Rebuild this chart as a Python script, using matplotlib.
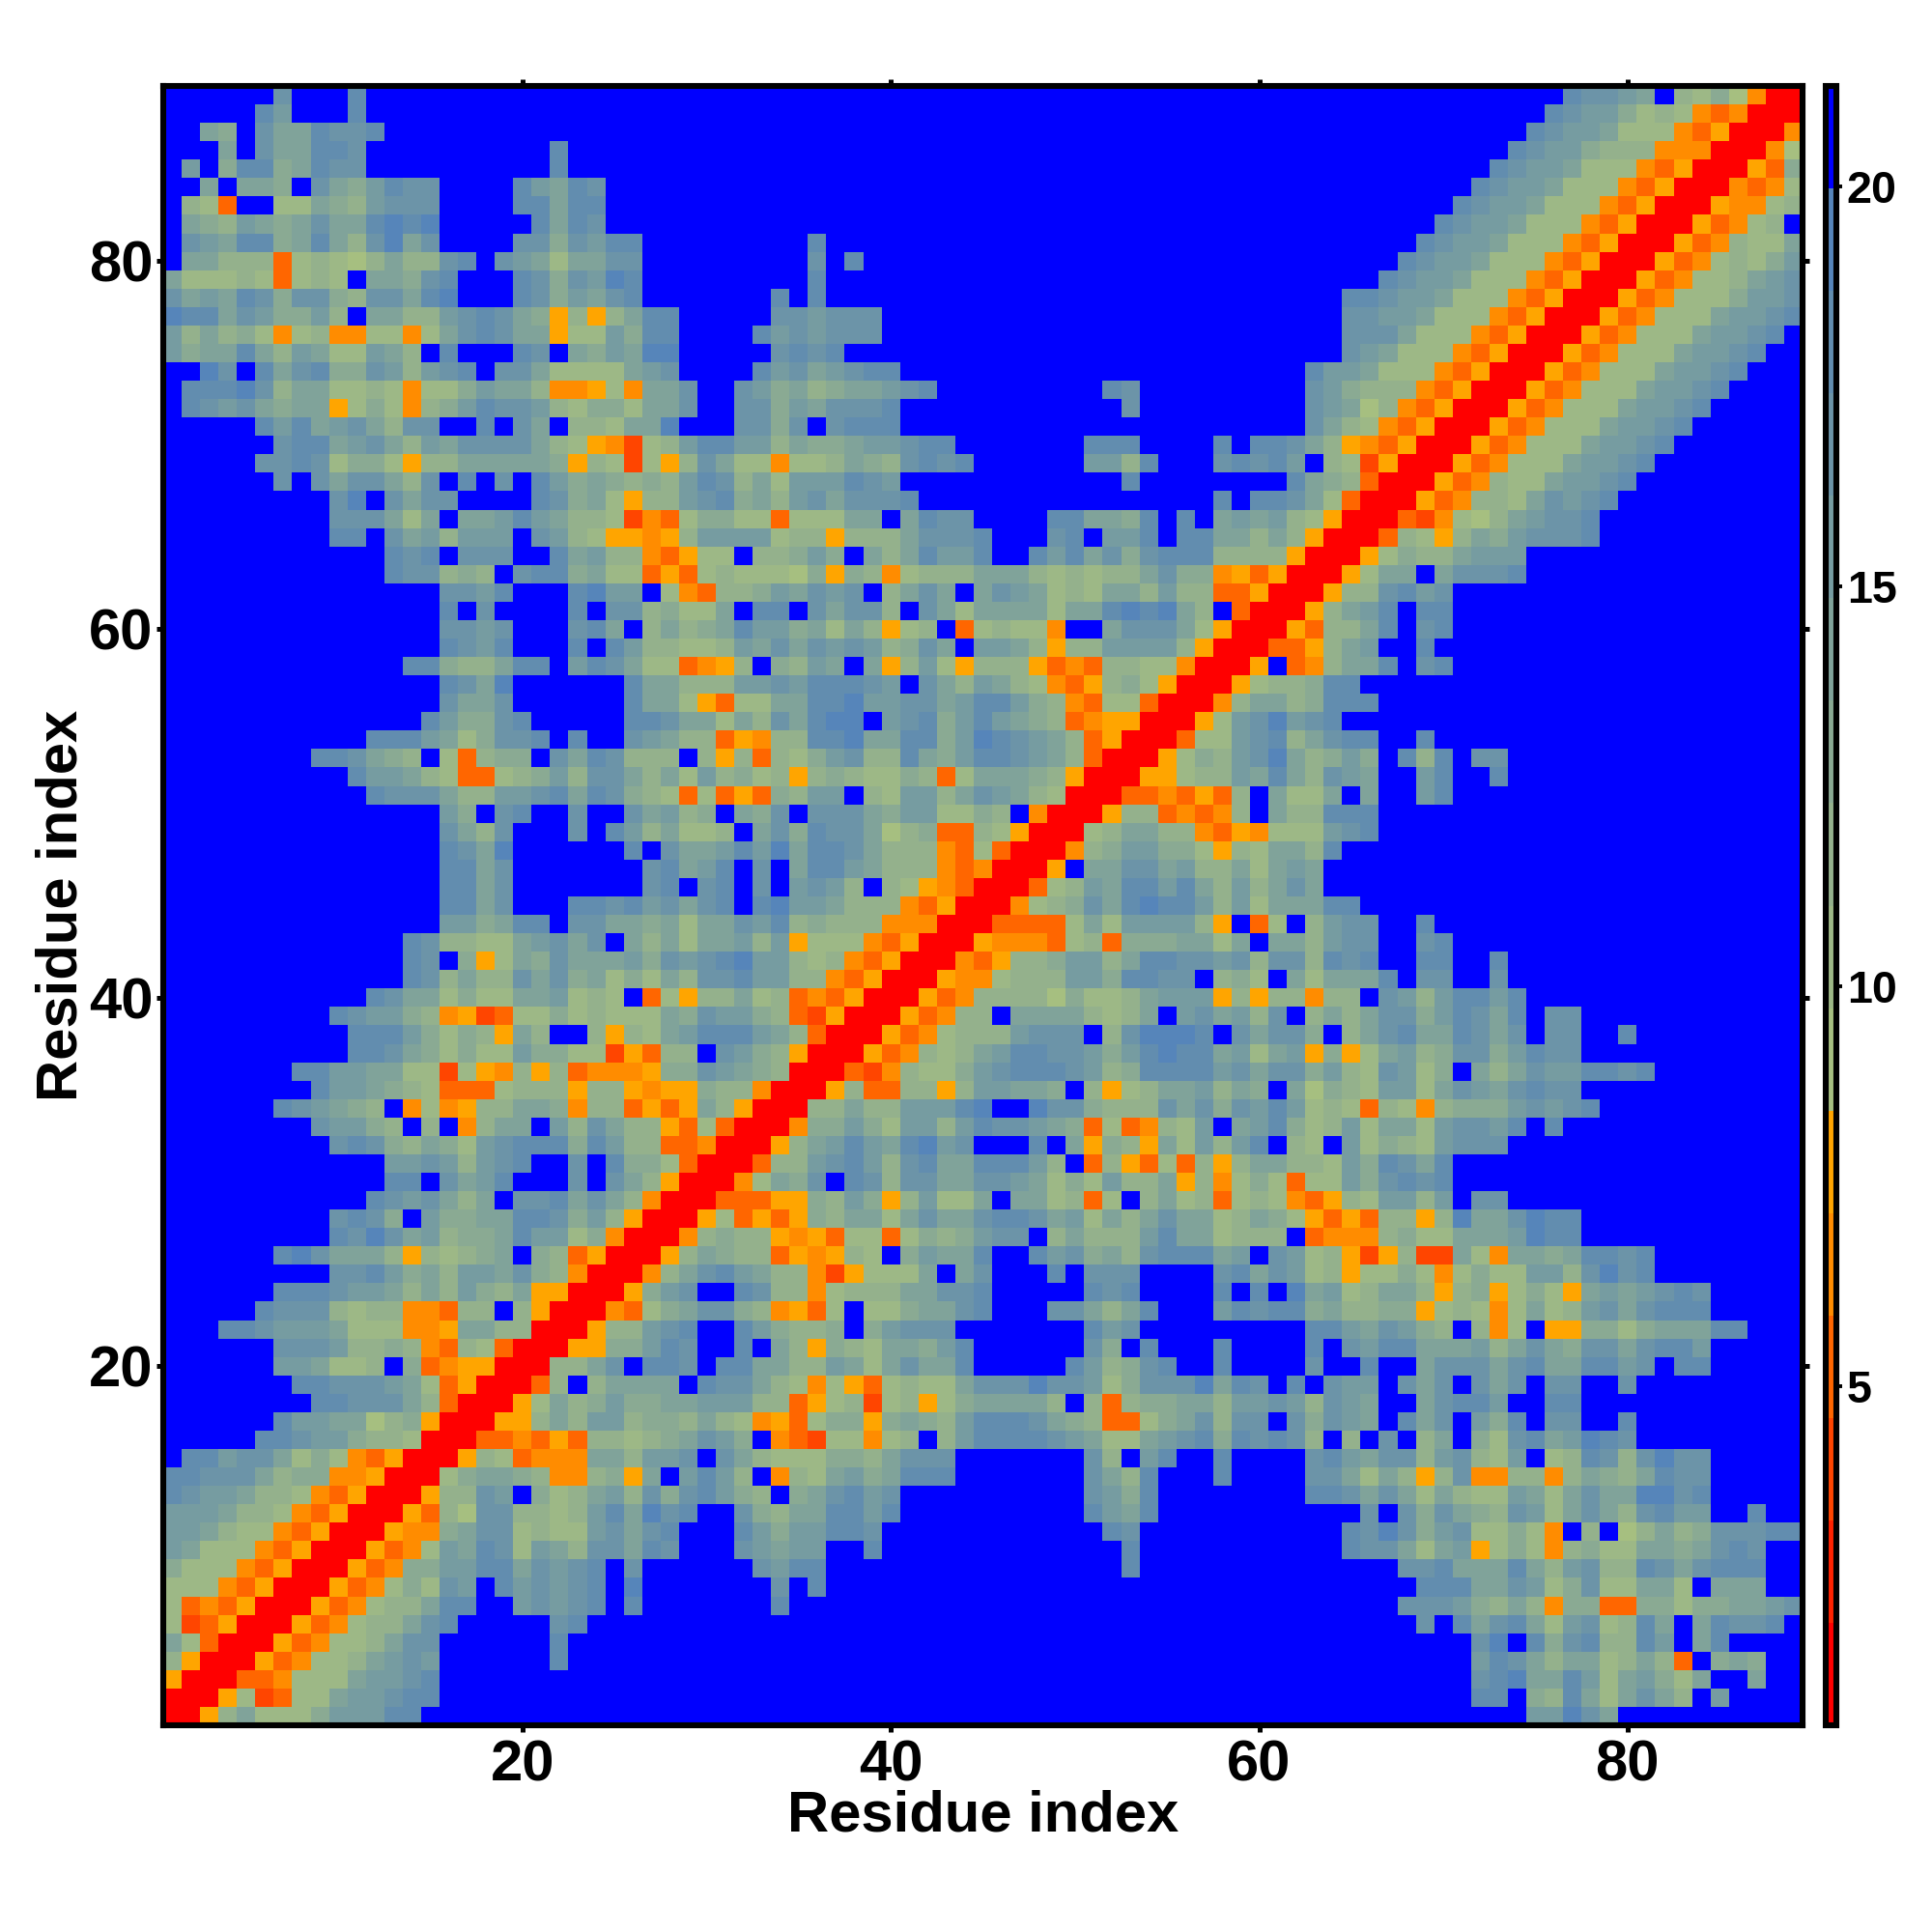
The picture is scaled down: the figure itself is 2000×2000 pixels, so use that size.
import numpy as np
import matplotlib
matplotlib.use('Agg')
import matplotlib.pyplot as plt
from matplotlib.colors import ListedColormap, BoundaryNorm

plt.rcParams['font.family'] = ['Liberation Sans', 'DejaVu Sans']
plt.rcParams['font.weight'] = 'bold'

### colour bands, red (close) up to blue (far). '.' in the rows below is the last band
band_colors = ['#FF0000', '#FF2200', '#FF4500', '#FF6600', '#FF8C00', '#FFA500',
               '#A6BF80', '#9DB886', '#94B18C', '#8AAA93', '#80A39A', '#769CA1',
               '#6C94A8', '#628DAF', '#5685BA', '#0000FF']
band_edges = np.linspace(0.76, 21.25, 17)
band_chars = '012345' + '6789abcde' + '.'

n_res = 89
axis_label = 'Residue index'
main_ticks = [20, 40, 60, 80]
bar_ticks = [5, 10, 15, 20]

### matrix is symmetric, only x <= y is read. one band character per residue
### columns 1-30, key is the y residue
rows_left = {
    89: "......c...d",
    88: ".....db...d",
    87: "..a9.caadccd",
    86: "...a.caaddc..........d",
    85: ".b.9dd9adcc..........d",
    84: "..a.aa9.ca9bdcc....dbadc",
    83: ".873..77a98bccc....ddadd",
    82: ".a98ba9acaadede.....dadc",
    81: ".cbadd9ada8ceac....cc9cbdd",
    80: ".aa888378768a88cd.cba7aacc",
    79: "a777873787.aa9cd...dc9cbed",
    78: "cabadc9cc98ccade...dc9bacd",
    77: "eddacb99b8.aa88bcdca95858add",
    76: "b8a897478447747acdcaa577b9dd",
    75: "b9aada8ba77ba8.d...dc.a9baee",
    74: "..ec.dacd99cb8bcd.cca7777abc",
    73: ".dddec8aa77874779baa844574aac.",
    72: ".dcbca9aa5797489bdccb87997aac.",
    71: ".....dbdabca8cc..d.ca.887aae.",
    70: "......cddabca8bacccca8754278bd",
    69: ".....ccdc7997588aaaaa95872758c",
    68: "......c.cacca8c.d.c.db9a9898bd",
    67: ".........ce.cacc....dc9a7588bc",
    66: ".........ccca7a.aabdba88724379",
    65: ".........dd.cab8bbb.cb8755458b",
    64: "............dcd.ccc..dab884357",
    63: "............dcc898.cdd9a773537",
    62: "...............ccbd...debb.743",
    61: "...............d.c....d.cc8977",
    60: "...............ccbc...cda.8a89",
    59: "...............dcbd...d.db8877",
    58: ".............dd988add.bdca7734",
    57: "...............dcae......daa88",
    56: "...............caac......daa75",
    55: "..............db99cd.....ddcaa",
    54: "...........dddba79ccd.d..cba88",
    53: "........ddca98.73899.cadc888.8",
    52: "..........dbba8733789b8cca8a7b",
    51: "...........dccca88bbcdadc98737",
    50: "...............b9.cd..c..cab89",
    49: "...............ca8c...c.db8a77",
    48: "...............dcae......d.caa",
    47: "...............ddac.......cdab",
    46: "...............ddac.......cd.c",
    45: "...............ddac...ddcdbcac",
    44: "...............bb9add.ccaa9a7a",
    43: ".............dc8877abcac.a8a7a",
    42: ".............dc.957a9caaab9cbc",
    41: ".............dc8a88cac9a797a8c",
    40: "...........dcaa7977aab787.3758",
    39: ".........dcbb98452377978777a9c",
    38: "..........dddb97985a8..8587abd",
    37: "..........ddca97977b997725388.",
    36: ".......ddbbaa7727548583444599c",
    35: "........dbba987333788858854559",
    34: "......dcba98.474588aa94883535a",
    33: "........cbb98.8.48aa.b8ca88537",
    32: ".........cdc98a97bcddd9db88334",
    31: "............bbcb8bcd..c.d99730",
    30: "............dd.cabd...c.ca8500",
    29: "...........dcbca8a.ccdaca8400",
    28: ".........cdc9.b99aaddc9b8500",
    27: ".........dcecab899adbb79400",
    26: "......decaaa858789a.983500",
    25: ".........ccdb9a8bbac98400",
    24: "......dddcbba8a8b98a5500",
    23: ".....dccc878844388.8500",
    22: "...ddcbbba777445aa8800",
    21: "......cccb88984387300",
    20: "......bba778.9345500",
    19: ".......ddcccba73500",
    18: "........ddccca8300",
    17: "......dbbaa689500",
    16: ".....ddcbb988700",
    15: ".ddbcca79743500",
    14: "ddccca89944500",
    13: "dcbba88743500",
    12: "bbba88743500",
    11: "bba87743500",
    10: "ba77743500",
    9: "977743500",
    8: "77743500",
    7: "7343500",
    6: "723500",
    5: "a7300",
    4: "8500",
    3: "500",
    2: "00",
    1: "0",
}

### columns 31-60
rows_mid = {
    81: ".....d",
    80: ".....c.d",
    79: ".....d",
    78: "...d.d",
    77: "...ccbccc",
    76: "..dbcbccc",
    75: "...cdcd",
    74: "..dbcabcdd",
    73: ".cb9a89aabcd.........dc",
    72: ".cc9bacccd............c",
    71: ".cc9c.cddd",
    70: "dbb8a99abbcdd.......ddd....d.d",
    69: "a774778a98cdcd......bb8d...cdc",
    68: "c8a7bbbdcb............d",
    67: "d9a8bcacccd................d.d",
    66: "9773777aa.adcc....ddaa9d.d.aba",
    65: "bbb7885888acccd...cd.bbd.ddaa8",
    64: "7.889b9.a8adbbd..dbdac9cddd888",
    63: "87776959847888aaa878788ac99453",
    62: "889bacbc.8aca.acba787aa8b88335",
    61: "a.dd.cacc8.ca7aaaa7aadedea8.30",
    60: "adbb9a7a8578.378774..accca7500",
    59: "8bacacbcb89ca.bba8588bbbb8500",
    58: "58.98ba.a58b7588853438877400",
    57: "8bbcbdddcb.ca8ba87435897500",
    56: "377aaddebbccabddb984377300",
    55: "7a8cadee.bcd9bdba98345500",
    54: "35488ddeaadd9bedcba83500",
    53: "583879bc88da9bddcba8300",
    52: "89785898779837aaa98500",
    51: "35398bb.87bb8acba8700",
    50: ".a9c.ccca9bb7798.400",
    49: "8.ac9dcca6893387500",
    48: "bdbeaddca888437300",
    47: "d.c.addba88843400",
    46: "d.c.bcb8.8754300",
    45: "d.debba88843500",
    44: "acbd8988844400",
    43: "ab8b577743500",
    42: "debb87843500",
    41: "cdbb8843500",
    40: "8a78343500",
    39: "bb9832500",
    38: "ddba8300",
    37: "cb98500",
    36: "ba9800",
    35: "88400",
    34: "8500",
    33: "300",
    32: "00",
    31: "0",
}

### columns from the given start up to the diagonal: y -> (first x, bands)
rows_right = {
    89: (77, "dccba.8796400"),
    88: (76, "dcbb978743400"),
    87: (75, "dcbba77743500"),
    86: (74, "dcbb988844400"),
    85: (73, "dcbba77743500"),
    84: (72, "dcbba77743500"),
    83: (71, "dcbba77743500"),
    82: (70, "dcbba77743500"),
    81: (69, "dcbba77743500"),
    80: (68, "dcbba77743500"),
    79: (67, "dcbba77743500"),
    78: (65, "ddcbba77743500"),
    77: (65, "ccbba77743500"),
    76: (65, "ccca77743500"),
    75: (65, "cba77743500"),
    74: (63, "dbba77743500"),
    73: (63, "cb988843500"),
    72: (63, "cba6843500"),
    71: (63, "ca8743500"),
    70: (61, "dca8543500"),
    69: (61, "db.872500"),
    68: (61, ".da98300"),
    67: (61, "dca7300"),
    66: (61, "b87500"),
    65: (61, "a8500"),
    64: (61, "8500"),
    63: (61, "500"),
    62: (61, "00"),
    61: (61, "0"),
}

### build the matrix from the rows
band_mid = 0.5*(band_edges[:-1] + band_edges[1:])
dist = np.full((n_res, n_res), band_mid[-1])


def fill(y, x0, text):
    for k, c in enumerate(text):
        x = x0 + k
        if x <= y:
            dist[y-1, x-1] = band_mid[band_chars.index(c)]
            dist[x-1, y-1] = dist[y-1, x-1]


for y, text in rows_left.items():
    fill(y, 1, text)
for y, text in rows_mid.items():
    fill(y, 31, text)
for y, (x0, text) in rows_right.items():
    fill(y, x0, text)

cmap = ListedColormap(band_colors)
norm = BoundaryNorm(band_edges, cmap.N)

##########################################################################
fig = plt.figure(figsize=(10, 10), dpi=200)
ax = fig.add_axes([0.0845, 0.107, 0.8485, 0.8485])
cax = fig.add_axes([0.9448, 0.107, 0.0055, 0.8485])

edges = np.arange(0.5, n_res + 1)
mesh = ax.pcolormesh(edges, edges, dist, cmap=cmap, norm=norm, antialiased=False, linewidth=0)

ax.set_xlim(0.5, 89.5)
ax.set_ylim(0.5, 89.5)
ax.set_xticks(main_ticks)
ax.set_yticks(main_ticks)
ax.tick_params(axis='both', which='major', direction='out', length=2.6, width=1.8,
               top=True, right=True, labelsize=21.5, pad=2.5)
ax.tick_params(axis='y', pad=1.1)
ax.set_xlabel(axis_label, fontsize=21.5, fontweight='bold', labelpad=-1)
ax.set_ylabel(axis_label, fontsize=21.5, fontweight='bold', labelpad=0.4)
for sp in ax.spines.values():
    sp.set_linewidth(2.2)

cb = fig.colorbar(mesh, cax=cax, ticks=bar_ticks, spacing='proportional', drawedges=False)
cb.ax.minorticks_off()
cb.ax.tick_params(direction='out', length=2.0, width=1.4, labelsize=16.8, pad=2)
cb.outline.set_linewidth(2.2)

plt.savefig('out.png', dpi=200)
